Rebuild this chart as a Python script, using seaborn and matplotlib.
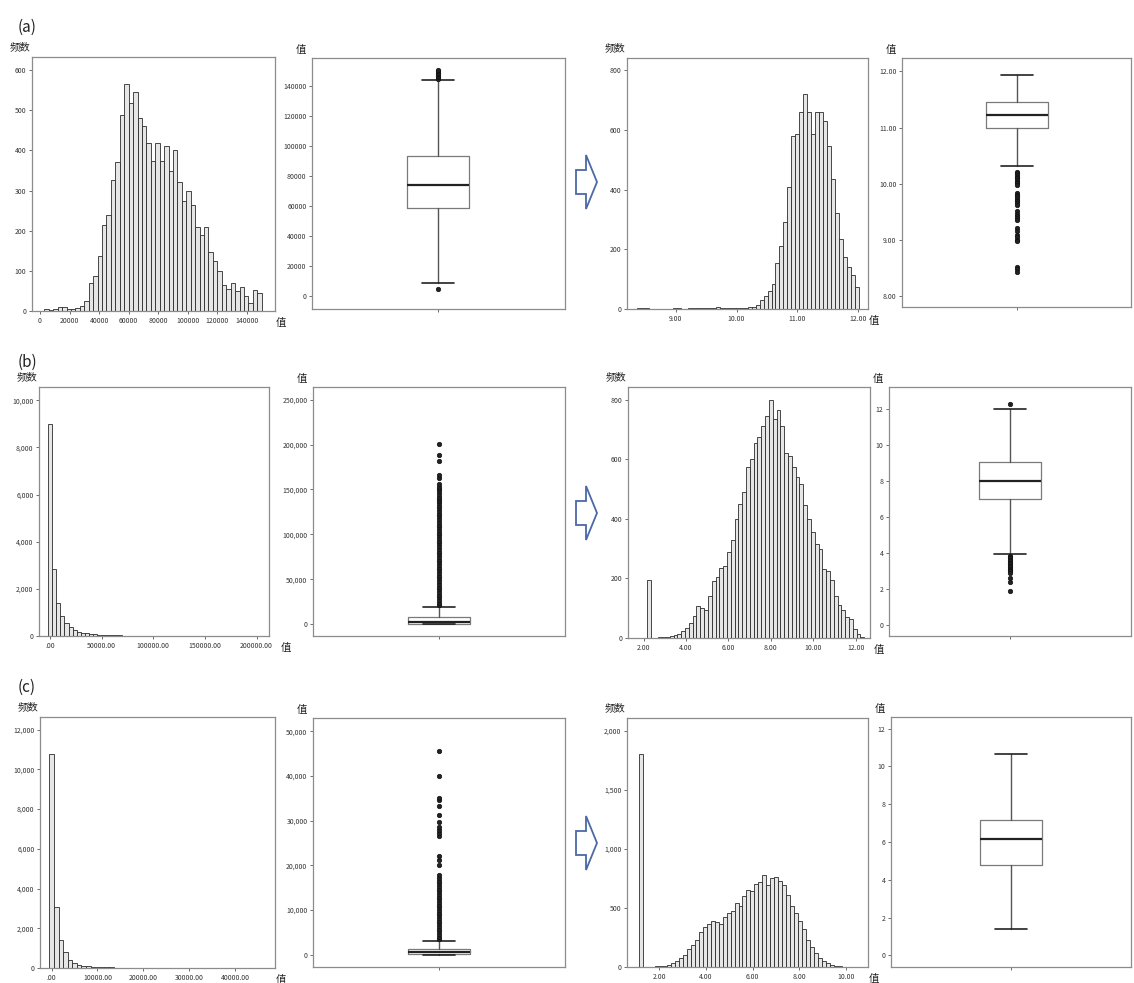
import numpy as np
import pandas as pd
import seaborn as sns
import matplotlib.pyplot as plt
from matplotlib.patches import Polygon

W, H = 1134, 983

# ---------------- row (a) ----------------
A1_START, A1_WIDTH = 0, 3000
A1_COUNTS = [0, 4, 3, 6, 10, 9, 6, 5, 8, 12,
             25, 70, 88, 138, 215, 240, 327, 372, 488, 566,
             518, 546, 480, 462, 418, 375, 418, 375, 412, 348,
             400, 322, 275, 300, 265, 210, 190, 210, 148, 125,
             100, 65, 55, 70, 50, 60, 38, 20, 52, 45]
A1_XTICKS = [0, 20000, 40000, 60000, 80000, 100000, 120000, 140000]
A1_XLABELS = ['0', '20000', '40000', '60000', '80000', '100000', '120000', '140000']
A1_YTICKS = [0, 100, 200, 300, 400, 500, 600]
A1_YLABELS = ['0', '100', '200', '300', '400', '500', '600']

A_BOX = dict(q1=58700, med=74200, q3=93000, whislo=8900, whishi=143500)
A_FLIERS = [144500, 145500, 146500, 147500, 148500, 149500, 150500, 5000]
A_BOX_TICKS = [0, 20000, 40000, 60000, 80000, 100000, 120000, 140000]
A_BOX_LABELS = ['0', '20000', '40000', '60000', '80000', '100000', '120000', '140000']

A2_START, A2_WIDTH = 8.30, 0.065
A2_COUNTS = [0, 2, 3, 2, 0, 0, 0, 1, 0, 0,
             2, 3, 1, 0, 2, 2, 4, 3, 2, 4,
             5, 6, 5, 4, 3, 2, 4, 5, 3, 6,
             8, 15, 30, 45, 60, 85, 155, 210, 290, 410,
             578, 585, 660, 720, 660, 585, 660, 660, 630, 545,
             435, 320, 235, 175, 140, 115, 75]
A2_XTICKS = [9, 10, 11, 12]
A2_XLABELS = ['9.00', '10.00', '11.00', '12.00']
A2_YTICKS = [0, 200, 400, 600, 800]
A2_YLABELS = ['0', '200', '400', '600', '800']

A2_BOX = dict(q1=10.99, med=11.23, q3=11.455, whislo=10.32, whishi=11.94)
A2_FLIERS = [10.22, 10.19, 10.16, 10.13, 10.10, 10.07, 10.04, 10.01, 9.98,
             9.84, 9.81, 9.78, 9.75, 9.72, 9.69, 9.66, 9.63,
             9.51, 9.47, 9.43, 9.39, 9.35, 9.21, 9.17, 9.09, 9.05, 9.01, 8.98,
             8.53, 8.49, 8.44]
A2_BOX_TICKS = [8, 9, 10, 11, 12]
A2_BOX_LABELS = ['8.00', '9.00', '10.00', '11.00', '12.00']

# ---------------- row (b) ----------------
B1_START, B1_WIDTH = -2000, 4000
B1_COUNTS = [9000, 2850, 1400, 850, 550, 380, 260, 190, 140, 110,
             90, 75, 60, 50, 42, 35, 30, 25, 20, 17,
             14, 12, 10, 8, 7, 6, 5, 5, 4, 4,
             3, 3, 3, 2, 2, 2, 2, 1, 1, 1,
             1, 1, 1, 1, 0, 1, 0, 1, 0, 0, 1]
B1_XTICKS = [0, 50000, 100000, 150000, 200000]
B1_XLABELS = ['.00', '50000.00', '100000.00', '150000.00', '200000.00']
B1_YTICKS = [0, 2000, 4000, 6000, 8000, 10000]
B1_YLABELS = ['0', '2,000', '4,000', '6,000', '8,000', '10,000']

B_BOX = dict(q1=700, med=3000, q3=8500, whislo=0, whishi=19600)
B_FLIERS = [21000, 24000, 27000, 30000, 33000, 36000, 39000, 42000, 45000,
            48000, 51000, 54000, 57000, 60000, 63000, 66000, 69000, 72000,
            75000, 78000, 81000, 84000, 87000, 90000, 93000, 96000, 99000,
            102000, 105000, 108000, 111000, 114000, 117000, 120000, 123000,
            126000, 129000, 132000, 135000, 137000, 139000, 142000, 145000,
            148000, 151000, 153000, 156000, 163000, 166000, 182000, 188000, 201000]
B_BOX_TICKS = [0, 50000, 100000, 150000, 200000, 250000]
B_BOX_LABELS = ['0', '50,000', '100,000', '150,000', '200,000', '250,000']

B2_START, B2_WIDTH = 2.15, 0.18
B2_COUNTS = [193, 0, 0, 2, 3, 5, 8, 10, 15, 22,
             35, 50, 75, 108, 100, 95, 140, 190, 205, 235,
             240, 290, 330, 400, 450, 490, 575, 600, 655, 675,
             710, 745, 800, 735, 765, 710, 620, 610, 575, 540,
             515, 445, 400, 355, 315, 300, 230, 225, 195, 140,
             110, 95, 70, 65, 30, 15, 5]
B2_XTICKS = [2, 4, 6, 8, 10, 12]
B2_XLABELS = ['2.00', '4.00', '6.00', '8.00', '10.00', '12.00']
B2_YTICKS = [0, 200, 400, 600, 800]
B2_YLABELS = ['0', '200', '400', '600', '800']

B2_BOX = dict(q1=7.0, med=7.99, q3=9.02, whislo=3.92, whishi=12.0)
B2_FLIERS = [12.25, 3.85, 3.77, 3.69, 3.61, 3.53, 3.45, 3.37, 3.29, 3.21,
             3.13, 3.05, 2.97, 2.89, 2.6, 2.39, 1.9]
B2_BOX_TICKS = [0, 2, 4, 6, 8, 10, 12]
B2_BOX_LABELS = ['0', '2', '4', '6', '8', '10', '12']

# ---------------- row (c) ----------------
C1_START, C1_WIDTH = -500, 1000
C1_COUNTS = [10750, 3050, 1420, 800, 420, 260, 170, 120, 90, 70,
             55, 45, 38, 30, 25, 20, 17, 14, 12, 10,
             8, 7, 6, 5, 4, 4, 3, 3, 2, 2,
             2, 2, 1, 1, 1, 1, 1, 1, 1, 1,
             1, 0, 0, 0, 0, 1, 1]
C1_XTICKS = [0, 10000, 20000, 30000, 40000]
C1_XLABELS = ['.00', '10000.00', '20000.00', '30000.00', '40000.00']
C1_YTICKS = [0, 2000, 4000, 6000, 8000, 10000, 12000]
C1_YLABELS = ['0', '2,000', '4,000', '6,000', '8,000', '10,000', '12,000']

C_BOX = dict(q1=150, med=600, q3=1300, whislo=0, whishi=3100)
C_FLIERS = [3400, 4000, 4600, 5200, 5800, 6400, 7000, 7600, 8200, 8800,
            9400, 10000, 10600, 11200, 11800, 12400, 13000, 13600, 14200,
            14800, 15400, 16000, 16600, 17200, 17800,
            20000, 21100, 22100, 26500, 27200, 27900, 28700, 29600, 31300,
            33400, 34600, 35100, 40100, 45600]
C_BOX_TICKS = [0, 10000, 20000, 30000, 40000, 50000]
C_BOX_LABELS = ['0', '10,000', '20,000', '30,000', '40,000', '50,000']

C2_START, C2_WIDTH = 1.15, 0.17
C2_COUNTS = [1800, 0, 0, 3, 5, 8, 12, 20, 35, 55,
             75, 100, 150, 185, 230, 300, 340, 360, 390, 385,
             360, 420, 460, 470, 540, 520, 600, 655, 640, 700,
             720, 780, 690, 755, 760, 730, 690, 610, 520, 460,
             390, 320, 230, 170, 115, 80, 50, 30, 18, 10,
             6, 4, 3, 2, 2, 1]
C2_XTICKS = [2, 4, 6, 8, 10]
C2_XLABELS = ['2.00', '4.00', '6.00', '8.00', '10.00']
C2_YTICKS = [0, 500, 1000, 1500, 2000]
C2_YLABELS = ['0', '500', '1,000', '1,500', '2,000']

C2_BOX = dict(q1=4.76, med=6.16, q3=7.16, whislo=1.41, whishi=10.67)
C2_FLIERS = []
C2_BOX_TICKS = [0, 2, 4, 6, 8, 10, 12]
C2_BOX_LABELS = ['0', '2', '4', '6', '8', '10', '12']

ROW_TAGS = ['(a)', '(b)', '(c)']

# colours
BAR_FACE = '#e6e6e6'
BAR_EDGE = '#2b2b2b'
FRAME = '#8c8c8c'
ARROW = '#4a69a6'
CJK = ['Noto Sans CJK SC', 'DejaVu Sans']

sns.set_style('white')
plt.rcParams['font.family'] = CJK

fig = plt.figure(figsize=(W / 100, H / 100), dpi=100)


def px_axes(x0, y0, x1, y1):
    return fig.add_axes([x0 / W, 1 - y1 / H, (x1 - x0) / W, (y1 - y0) / H])


def style(ax):
    for s in ax.spines.values():
        s.set_color(FRAME)
        s.set_linewidth(0.9)
    ax.tick_params(direction='out', length=2.5, width=0.6, color='#555555',
                   labelsize=5, labelcolor='#333333', pad=1.5,
                   top=False, right=False, bottom=True, left=True)
    ax.set_xlabel('')
    ax.set_ylabel('')
    ax.grid(False)


def px_text(x, y, s, size, **kw):
    fig.text(x / W, 1 - y / H, s, fontsize=size, color='#222222',
             ha='center', va='center', family=CJK, **kw)


def draw_hist(rect, start, width, counts, xlim, ylim, xt, xl, yt, yl, val_dx=6):
    ax = px_axes(*rect)
    n = len(counts)
    centers = start + width * (np.arange(n) + 0.5)
    df = pd.DataFrame({'value': centers, 'count': counts})
    sns.histplot(data=df, x='value', weights='count', binwidth=width,
                 binrange=(start, start + width * n), ax=ax,
                 color=BAR_FACE, edgecolor=BAR_EDGE, linewidth=0.6, alpha=1)
    ax.set_xlim(*xlim)
    ax.set_ylim(*ylim)
    ax.set_xticks(xt)
    ax.set_xticklabels(xl)
    ax.set_yticks(yt)
    ax.set_yticklabels(yl)
    style(ax)
    x0, y0, x1, y1 = rect
    px_text(x0 - 12, y0 - 10, '频数', 7.5)
    px_text(x1 + val_dx, y1 + 12, '值', 7.5)
    return ax


def draw_box(rect, stats, fliers, ylim, yt, yl):
    ax = px_axes(*rect)
    x0, y0, x1, y1 = rect
    axw = x1 - x0
    st = dict(stats)
    st['fliers'] = fliers
    ax.bxp([st], positions=[0], widths=62 / axw, capwidths=[32 / axw],
           showfliers=True, patch_artist=False,
           boxprops=dict(color='#7a7a7a', linewidth=0.9),
           medianprops=dict(color='#222222', linewidth=1.6),
           whiskerprops=dict(color='#555555', linewidth=1.0),
           capprops=dict(color='#222222', linewidth=1.2),
           flierprops=dict(marker='o', markersize=3.2, markerfacecolor='#222222',
                           markeredgecolor='#111111', markeredgewidth=0.5))
    ax.set_xlim(-0.5, 0.5)
    ax.set_ylim(*ylim)
    ax.set_xticks([0])
    ax.set_xticklabels([''])
    ax.set_yticks(yt)
    ax.set_yticklabels(yl)
    style(ax)
    px_text(x0 - 11, y0 - 8, '值', 7.5)
    return ax


def draw_arrow(x0, cy):
    # block arrow pointing right, outlined in blue
    pts = [(x0, cy - 12), (x0 + 10, cy - 12), (x0 + 10, cy - 27), (x0 + 21, cy),
           (x0 + 10, cy + 27), (x0 + 10, cy + 12), (x0, cy + 12)]
    pts = [(x / W, 1 - y / H) for x, y in pts]
    fig.patches.append(Polygon(pts, closed=True, facecolor='white',
                               edgecolor=ARROW, linewidth=1.3,
                               transform=fig.transFigure))


# row (a)
draw_hist((32, 57, 275, 311), A1_START, A1_WIDTH, A1_COUNTS,
          (-5400, 159000), (0, 633), A1_XTICKS, A1_XLABELS, A1_YTICKS, A1_YLABELS)
draw_box((312, 58, 565, 309), A_BOX, A_FLIERS, (-8400, 158400), A_BOX_TICKS, A_BOX_LABELS)
draw_hist((627, 58, 868, 309), A2_START, A2_WIDTH, A2_COUNTS,
          (8.20, 12.16), (0, 841), A2_XTICKS, A2_XLABELS, A2_YTICKS, A2_YLABELS)
draw_box((902, 58, 1131, 307), A2_BOX, A2_FLIERS, (7.81, 12.24), A2_BOX_TICKS, A2_BOX_LABELS)

# row (b)
draw_hist((39, 387, 269, 636), B1_START, B1_WIDTH, B1_COUNTS,
          (-10600, 212000), (0, 10565), B1_XTICKS, B1_XLABELS, B1_YTICKS, B1_YLABELS,
          val_dx=17)
draw_box((313, 387, 565, 636), B_BOX, B_FLIERS, (-13000, 264000), B_BOX_TICKS, B_BOX_LABELS)
draw_hist((628, 387, 870, 638), B2_START, B2_WIDTH, B2_COUNTS,
          (1.26, 12.68), (0, 842), B2_XTICKS, B2_XLABELS, B2_YTICKS, B2_YLABELS,
          val_dx=9)
draw_box((889, 387, 1131, 636), B2_BOX, B2_FLIERS, (-0.61, 13.2), B2_BOX_TICKS, B2_BOX_LABELS)

# row (c)
draw_hist((40, 717, 275, 968), C1_START, C1_WIDTH, C1_COUNTS,
          (-2545, 48727), (0, 12636), C1_XTICKS, C1_XLABELS, C1_YTICKS, C1_YLABELS)
draw_box((313, 718, 565, 967), C_BOX, C_FLIERS, (-2760, 53000), C_BOX_TICKS, C_BOX_LABELS)
draw_hist((627, 718, 868, 967), C2_START, C2_WIDTH, C2_COUNTS,
          (0.63, 10.94), (0, 2107), C2_XTICKS, C2_XLABELS, C2_YTICKS, C2_YLABELS)
draw_box((891, 717, 1131, 967), C2_BOX, C2_FLIERS, (-0.62, 12.62), C2_BOX_TICKS, C2_BOX_LABELS)

# row tags and arrows
for tag, y in zip(ROW_TAGS, [27, 362, 687]):
    px_text(27, y, tag, 11)
for y in [182, 513, 843]:
    draw_arrow(576, y)

fig.savefig('out.png', dpi=100)
